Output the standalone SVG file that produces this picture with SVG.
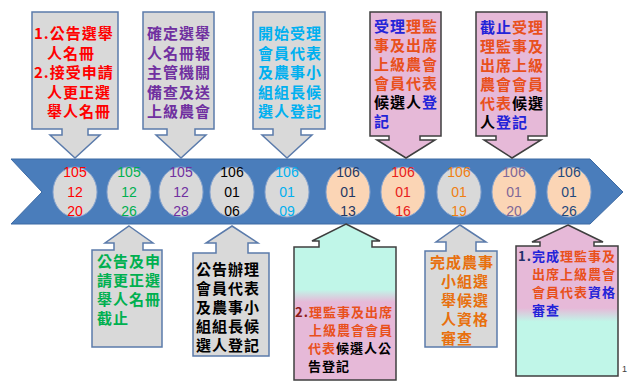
<svg xmlns="http://www.w3.org/2000/svg" width="630" height="381" viewBox="0 0 630 381">
<defs>
<linearGradient id="gC" gradientUnits="userSpaceOnUse" x1="0" y1="224" x2="0" y2="380">
<stop offset="0" stop-color="#c0f6e8"/><stop offset="0.42" stop-color="#c0f6e8"/><stop offset="0.5" stop-color="#e6b9d8"/><stop offset="1" stop-color="#e6b9d8"/>
</linearGradient>
<linearGradient id="gE" gradientUnits="userSpaceOnUse" x1="0" y1="225" x2="0" y2="376">
<stop offset="0" stop-color="#e6b9d8"/><stop offset="0.55" stop-color="#e6b9d8"/><stop offset="0.64" stop-color="#c0f6e8"/><stop offset="1" stop-color="#c0f6e8"/>
</linearGradient>
</defs>
<style>
.gray{fill:#d9d9d9;stroke:#5b7bab;stroke-width:1.5}
.pink{fill:#e6b9d8;stroke:#3f3f3f;stroke-width:1.5}
.mixC{fill:url(#gC);stroke:#3f3f3f;stroke-width:1.5}
.mixE{fill:url(#gE);stroke:#3f3f3f;stroke-width:1.5}
.cj{font-family:"Noto Sans CJK TC","Noto Sans CJK SC",sans-serif;font-weight:bold;font-size:15px;letter-spacing:1px}
.sm{font-size:13px;letter-spacing:1px}
.ov{stroke:#8aa6cf;stroke-width:1}
.eg{fill:#d9d9d9}.ep{fill:#fbd5b5}
.num{font-family:"Liberation Sans",Arial,sans-serif;font-size:14px;text-anchor:middle}
.red{fill:#ff0000}.grn{fill:#00b050}.pur{fill:#7030a0}.cyn{fill:#00b0f0}.blk{fill:#000000}
.org{fill:#e9501c}.blu{fill:#2323d8}.ora{fill:#e8700e}
</style>
<g id="banner">
<path d="M11 159 H590 L623 192 L590 224 H11 L42 192 Z" fill="#4a7dbb" stroke="#3d6aa3" stroke-width="1"/>
</g>
<g id="dates" class="num">
<g id="d1"><ellipse class="eg ov" cx="75" cy="192" rx="22" ry="25"/><g class="red"><text x="75" y="177">105</text><text x="75" y="197">12</text><text x="75" y="216">20</text></g></g>
<g id="d2"><ellipse class="eg ov" cx="129" cy="192" rx="22" ry="25"/><g class="grn"><text x="129" y="177">105</text><text x="129" y="197">12</text><text x="129" y="216">26</text></g></g>
<g id="d3"><ellipse class="eg ov" cx="181" cy="192" rx="22" ry="25"/><g class="pur"><text x="181" y="177">105</text><text x="181" y="197">12</text><text x="181" y="216">28</text></g></g>
<g id="d4"><ellipse class="eg ov" cx="232" cy="192" rx="22" ry="25"/><g class="blk"><text x="232" y="177">106</text><text x="232" y="197">01</text><text x="232" y="216">06</text></g></g>
<g id="d5"><ellipse class="eg ov" cx="287" cy="192" rx="22" ry="25"/><g class="cyn"><text x="287" y="177">106</text><text x="287" y="197">01</text><text x="287" y="216">09</text></g></g>
<g id="d6"><ellipse class="ep ov" cx="348" cy="192" rx="22" ry="25"/><g fill="#1f3864"><text x="348" y="177">106</text><text x="348" y="197">01</text><text x="348" y="216">13</text></g></g>
<g id="d7"><ellipse class="ep ov" cx="403" cy="192" rx="22" ry="25"/><g fill="#e8201a"><text x="403" y="177">106</text><text x="403" y="197">01</text><text x="403" y="216">16</text></g></g>
<g id="d8"><ellipse class="eg ov" cx="459" cy="192" rx="22" ry="25"/><g fill="#f07f12"><text x="459" y="177">106</text><text x="459" y="197">01</text><text x="459" y="216">19</text></g></g>
<g id="d9"><ellipse class="ep ov" cx="514" cy="192" rx="22" ry="25"/><g fill="#7f6898"><text x="514" y="177">106</text><text x="514" y="197">01</text><text x="514" y="216">20</text></g></g>
<g id="d10"><ellipse class="ep ov" cx="569" cy="192" rx="22" ry="25"/><g fill="#1f497d"><text x="569" y="177">106</text><text x="569" y="197">01</text><text x="569" y="216">26</text></g></g>
</g>
<g id="connectors"/>
<g id="top1">
<path class="gray" d="M32 12 H118 V129 H88 V135 H100 L75 158 L50 135 H62 V129 H32 Z"/>
<g class="cj red"><text x="34" y="39">1.公告選舉</text><text x="47" y="58.5">人名冊</text><text x="34" y="78">2.接受申請</text><text x="47" y="97.5">人更正選</text><text x="47" y="117">舉人名冊</text></g>
</g>
<g id="top2">
<path class="gray" d="M143 12 H214 V129 H195 V135 H206 L181 158 L156 135 H167 V129 H143 Z"/>
<g class="cj pur"><text x="147" y="39">確定選舉</text><text x="147" y="58.5">人名冊報</text><text x="147" y="78">主管機關</text><text x="147" y="97.5">備查及送</text><text x="147" y="117">上級農會</text></g>
</g>
<g id="top3">
<path class="gray" d="M253 12 H325 V129 H301 V135 H312 L287 158 L262 135 H273 V129 H253 Z"/>
<g class="cj cyn"><text x="258" y="39">開始受理</text><text x="258" y="58.5">會員代表</text><text x="258" y="78">及農事小</text><text x="258" y="97.5">組組長候</text><text x="258" y="117">選人登記</text></g>
</g>
<g id="top4">
<path class="pink" d="M370 12 H441 V136 H420 V140 H435 L406 158 L377 140 H389 V136 H370 Z"/>
<g class="cj"><text x="374" y="32"><tspan class="blu">受理</tspan><tspan class="org">理監</tspan></text><text class="org" x="374" y="51">事及出席</text><text class="org" x="374" y="70">上級農會</text><text class="org" x="374" y="89">會員代表</text><text x="374" y="108"><tspan class="blk">候選人</tspan><tspan class="blu">登</tspan></text><text class="blu" x="374" y="127">記</text></g>
</g>
<g id="top5">
<path class="pink" d="M476 12 H547 V136 H528 V140 H541 L512 158 L484 140 H496 V136 H476 Z"/>
<g class="cj"><text x="480" y="33"><tspan class="blu">截止</tspan><tspan class="org">受理</tspan></text><text class="org" x="480" y="52">理監事及</text><text class="org" x="480" y="71">出席上級</text><text class="org" x="480" y="90">農會會員</text><text x="480" y="109"><tspan class="org">代表</tspan><tspan class="blk">候選</tspan></text><text x="480" y="128"><tspan class="blk">人</tspan><tspan class="blu">登記</tspan></text></g>
</g>
<g id="bot1">
<path class="gray" d="M129 226 L153 243 H143 V250 H162 V347 H92 V250 H114 V243 H105 Z"/>
<g class="cj grn"><text x="97" y="267">公告及申</text><text x="97" y="286">請更正選</text><text x="97" y="305">舉人名冊</text><text x="97" y="324">截止</text></g>
</g>
<g id="bot2">
<path class="gray" d="M232 226 L258 243 H248 V253 H269 V356 H193 V253 H216 V243 H206 Z"/>
<g class="cj blk"><text x="196" y="275">公告辦理</text><text x="196" y="294">會員代表</text><text x="196" y="313">及農事小</text><text x="196" y="332">組組長候</text><text x="196" y="351">選人登記</text></g>
</g>
<g id="bot3">
<path class="mixC" d="M346 224 L380 241 H372 V247 H396 V380 H294 V247 H319 V241 H312 Z"/>
<g class="cj sm"><text x="295" y="317"><tspan fill="#8b1a1a">2.</tspan><tspan class="org">理監事及出席</tspan></text><text class="org" x="309" y="335">上級農會會員</text><text x="308" y="353"><tspan class="org">代表</tspan><tspan class="blk">候選人公</tspan></text><text class="blk" x="308" y="371">告登記</text></g>
</g>
<g id="bot4">
<path class="gray" d="M460 225 L486 242 H476 V251 H497 V347 H425 V251 H446 V242 H436 Z"/>
<g class="cj ora"><text x="430" y="268">完成農事</text><text x="441" y="287">小組選</text><text x="441" y="306">舉候選</text><text x="441" y="325">人資格</text><text x="441" y="344">審查</text></g>
</g>
<g id="bot5">
<path class="mixE" d="M568 225 L603 242 H594 V246 H618 V376 H516 V246 H540 V242 H532 Z"/>
<g class="cj" style="font-size:13px;letter-spacing:1px"><text x="518" y="261"><tspan fill="#1f2f6b">1.</tspan><tspan class="blu">完成</tspan><tspan class="org">理監事及</tspan></text><text class="org" x="532" y="279">出席上級農會</text><text x="532" y="297"><tspan class="org">會員代表</tspan><tspan class="blu">資格</tspan></text><text class="blu" x="532" y="315">審查</text></g>
</g>
<text x="622" y="372" font-family="Liberation Sans, Arial, sans-serif" font-size="9" fill="#404040">1</text>
</svg>
